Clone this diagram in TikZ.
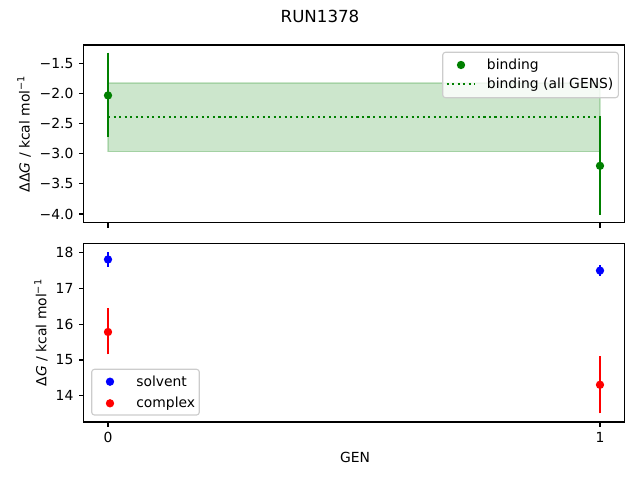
\documentclass[tikz,border=0pt]{standalone}
\usepackage{fontspec}
\setmainfont{DejaVu Sans}
\definecolor{mplgreen}{RGB}{0,128,0}
\definecolor{mplblue}{RGB}{0,0,255}
\definecolor{mplred}{RGB}{255,0,0}
\tikzset{
    axis-frame/.style = {draw=black, line width=0.8pt},
    tick-mark/.style = {draw=black, line width=0.8pt},
    tick-label/.style = {font=\fontsize{10}{12}\selectfont, inner sep=0pt},
    err-bar/.style = {line width=1.5pt},
    data-dot/.style = {circle, fill=#1, inner sep=0pt, minimum size=6pt},
    legend-frame/.style = {draw=black!20, fill=white, fill opacity=0.8, rounded corners=2pt, line width=0.8pt},
    legend-text/.style = {font=\fontsize{10}{12}\selectfont, anchor=west, inner sep=0pt, text height=1.6ex, text depth=0.4ex},
}

\begin{document}
\begin{tikzpicture}[x=0.72pt, y=0.72pt]
\useasboundingbox (0,0) rectangle (640,480);

% title
\node[font=\fontsize{12}{14}\selectfont] (title) at (320,464) {RUN1378};

% upper panel: binding free energy
\begin{scope}[xshift=77.76pt, yshift=365.148pt, x=354.24pt, y=43.416pt]
    \fill[mplgreen, fill opacity=0.2] (0,-1.825) rectangle (1,-2.965);
    \draw[mplgreen, opacity=0.2, line width=1pt] (0,-1.825) rectangle (1,-2.965);
    \draw[mplgreen, line width=1.5pt, dash pattern=on 1.5pt off 2.475pt] (0,-2.395) -- (1,-2.395);
    \draw[err-bar, mplgreen] (0,-1.325) -- (0,-2.725);
    \draw[err-bar, mplgreen] (1,-2.38) -- (1,-4.02);
    \node[data-dot=mplgreen] (bind0) at (0,-2.033) {};
    \node[data-dot=mplgreen] (bind1) at (1,-3.2) {};
    \draw[axis-frame] (-0.05,-4.1434) rectangle (1.05,-1.1965);
    \foreach \v/\t in {-1.5/−1.5, -2.0/−2.0, -2.5/−2.5, -3.0/−3.0, -3.5/−3.5, -4.0/−4.0} {
        \draw[tick-mark] (-0.05,\v) -- ++(-3.5pt,0);
        \node[tick-label, anchor=east] at ([xshift=-7pt]-0.05,\v) {\t};
    }
    \foreach \g in {0,1}
        \draw[tick-mark] (\g,-4.1434) -- ++(0,-3.5pt);
\end{scope}
\node[font=\fontsize{10}{12}\selectfont, rotate=90, anchor=base, inner sep=0pt] (ylabtop) at (29.5,346.2)
    {ΔΔ\textit{G} / kcal mol\textsuperscript{−1}};

% legend of upper panel
\draw[legend-frame] (442.7,382.3) rectangle (618.3,427.7);
\node[data-dot=mplgreen] (legbind) at (461,415) {};
\draw[mplgreen, line width=1.5pt, dash pattern=on 1.5pt off 2.475pt] (446.7,395.7) -- (475,395.7);
\node[legend-text] (legbindtxt) at (486.7,415) {binding};
\node[legend-text] (legalltxt) at (486.7,395.7) {binding (all GENS)};

% lower panel: solvent and complex legs
\begin{scope}[xshift=77.76pt, yshift=-301.32pt, x=354.24pt, y=25.848pt]
    \draw[err-bar, mplblue] (0,17.6) -- (0,18.0);
    \draw[err-bar, mplred] (0,15.16) -- (0,16.46);
    \draw[err-bar, mplblue] (1,17.34) -- (1,17.64);
    \draw[err-bar, mplred] (1,13.51) -- (1,15.11);
    \node[data-dot=mplblue] (solv0) at (0,17.8) {};
    \node[data-dot=mplred] (cplx0) at (0,15.78) {};
    \node[data-dot=mplblue] (solv1) at (1,17.49) {};
    \node[data-dot=mplred] (cplx1) at (1,14.31) {};
    \draw[axis-frame] (-0.05,13.273) rectangle (1.05,18.251);
    \foreach \v in {14,15,16,17,18} {
        \draw[tick-mark] (-0.05,\v) -- ++(-3.5pt,0);
        \node[tick-label, anchor=east] at ([xshift=-7pt]-0.05,\v) {\v};
    }
    \foreach \g in {0,1} {
        \draw[tick-mark] (\g,13.273) -- ++(0,-3.5pt);
        \node[tick-label, anchor=north] at ([yshift=-7pt]\g,13.273) {\g};
    }
\end{scope}
\node[font=\fontsize{10}{12}\selectfont, rotate=90, anchor=base, inner sep=0pt] (ylabbot) at (46.5,147.35)
    {Δ\textit{G} / kcal mol\textsuperscript{−1}};
\node[font=\fontsize{10}{12}\selectfont] (xlab) at (355,23) {GEN};

% legend of lower panel
\draw[legend-frame] (91.7,65) rectangle (199.3,110.7);
\node[data-dot=mplblue] (legsolv) at (110,98.3) {};
\node[data-dot=mplred] (legcplx) at (110,76.7) {};
\node[legend-text] (legsolvtxt) at (136,98.3) {solvent};
\node[legend-text] (legcplxtxt) at (136,76.7) {complex};
\end{tikzpicture}
\end{document}
